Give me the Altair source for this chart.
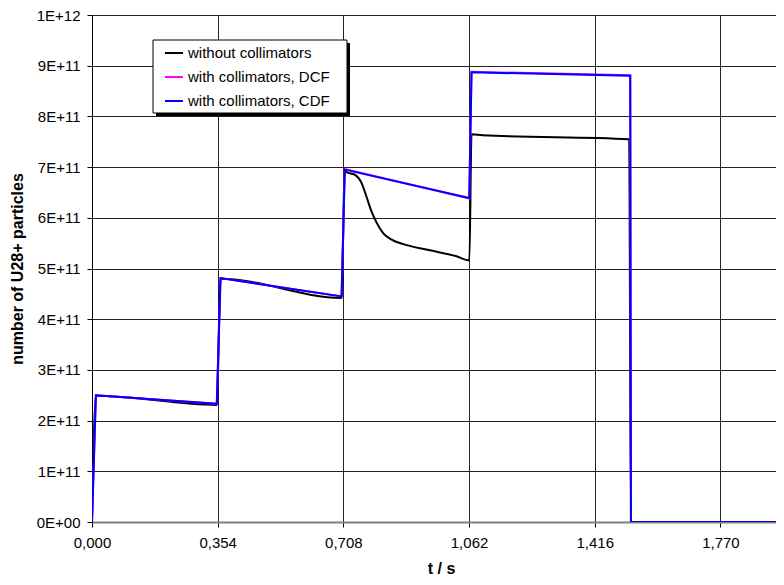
import altair as alt
import pandas as pd

# series names (legend order)
series_names = ["without collimators", "with collimators, DCF", "with collimators, CDF"]
series_colors = ["#000000", "#FF00FF", "#0000FF"]

# without collimators
t_without = [0.000, 0.011, 0.3515, 0.362, 0.703, 0.712, 0.717, 0.740, 0.759, 0.773, 0.787, 0.802,
             0.820, 0.844, 0.877, 0.952, 1.027, 1.063, 1.069, 1.100, 1.513, 1.518, 1.950]
n_without = [0.0, 2.49e11, 2.31e11, 4.80e11, 4.42e11, 6.93e11, 6.90e11, 6.85e11, 6.69e11, 6.42e11,
             6.13e11, 5.90e11, 5.70e11, 5.57e11, 5.48e11, 5.36e11, 5.24e11, 5.16e11, 7.65e11,
             7.63e11, 7.55e11, 0.0, 0.0]

# with collimators, DCF
t_dcf = [0.000, 0.011, 0.3515, 0.362, 0.703, 0.712, 1.0626, 1.069, 1.516, 1.518, 1.950]
n_dcf = [0.0, 2.50e11, 2.33e11, 4.81e11, 4.45e11, 6.96e11, 6.38e11, 8.88e11, 8.81e11, 0.0, 0.0]

# with collimators, CDF
t_cdf = [0.000, 0.011, 0.3515, 0.362, 0.703, 0.712, 1.0626, 1.069, 1.516, 1.518, 1.950]
n_cdf = [0.0, 2.50e11, 2.33e11, 4.81e11, 4.45e11, 6.95e11, 6.39e11, 8.87e11, 8.80e11, 0.0, 0.0]

x_ticks = [0.000, 0.354, 0.708, 1.062, 1.416, 1.770]
y_ticks = [0, 1e11, 2e11, 3e11, 4e11, 5e11, 6e11, 7e11, 8e11, 9e11, 1e12]

frames = []
for name, ts, ns in zip(series_names, [t_without, t_dcf, t_cdf], [n_without, n_dcf, n_cdf]):
    frames.append(pd.DataFrame({"t": ts, "n": ns, "series": name, "idx": range(len(ts))}))
df = pd.concat(frames, ignore_index=True)

FONT = "Liberation Sans"

x_enc = alt.X("t:Q",
              scale=alt.Scale(domain=[0, 1.9266], nice=False, zero=True),
              axis=alt.Axis(values=x_ticks, title="t / s",
                            labelExpr="replace(format(datum.value, '.3f'), '.', ',')",
                            grid=True, gridColor="#222222", gridWidth=1,
                            domainColor="#808080", domainWidth=2,
                            tickColor="#000000", tickSize=5,
                            labelFontSize=15, labelPadding=8, labelColor="#000000",
                            titleFontSize=16, titleFontWeight="bold", titlePadding=10,
                            titleX=349, titleColor="#000000", labelFlush=False))
y_enc = alt.Y("n:Q",
              scale=alt.Scale(domain=[0, 1e12], nice=False),
              axis=alt.Axis(values=y_ticks, title="number of U28+ particles",
                            labelExpr="datum.value == 0 ? '0E+00' : (datum.value >= 1e12 ? '1E+12' : format(datum.value / 1e11, 'd') + 'E+11')",
                            grid=True, gridColor="#222222", gridWidth=1,
                            domainColor="#000000", domainWidth=1,
                            tickColor="#000000", tickSize=5,
                            labelFontSize=15, labelPadding=7, labelColor="#000000",
                            titleFontSize=16, titleFontWeight="bold", titlePadding=11,
                            titleColor="#000000"))
color_enc = alt.Color("series:N",
                      scale=alt.Scale(domain=series_names, range=series_colors),
                      legend=alt.Legend(orient="none", legendX=72, legendY=28, title=None,
                                        padding=0, rowPadding=6,
                                        symbolType="stroke", symbolSize=324, symbolStrokeWidth=2,
                                        labelFontSize=15, labelOffset=4, labelColor="#000000",
                                        labelFont=FONT, labelLimit=300))

base = alt.Chart(df).encode(x=x_enc, y=y_enc, color=color_enc, order="idx:Q")

layers = []
for s in series_names:
    interp = "monotone" if s == series_names[0] else "linear"
    layers.append(base.mark_line(strokeWidth=2, clip=True, interpolate=interp)
                  .transform_filter(alt.datum.series == s))

deco = pd.DataFrame({"a": [0]})
shadow = alt.Chart(deco).mark_rect(color="#000000").encode(
    x=alt.value(64), x2=alt.value(258), y=alt.value(28), y2=alt.value(101))
box = alt.Chart(deco).mark_rect(fill="#FFFFFF", stroke="#000000", strokeWidth=1).encode(
    x=alt.value(61), x2=alt.value(255), y=alt.value(25), y2=alt.value(98))

chart = alt.layer(shadow, box, *layers).properties(
    width=684, height=507,
    autosize=alt.AutoSizeParams(type="none"),
    padding={"left": 84, "top": 7, "right": 0, "bottom": 55},
).configure_view(stroke="#808080", strokeWidth=1).configure(
    font=FONT, background="#FFFFFF")

chart.save("out.html", embed_options={"renderer": "svg", "actions": False})
